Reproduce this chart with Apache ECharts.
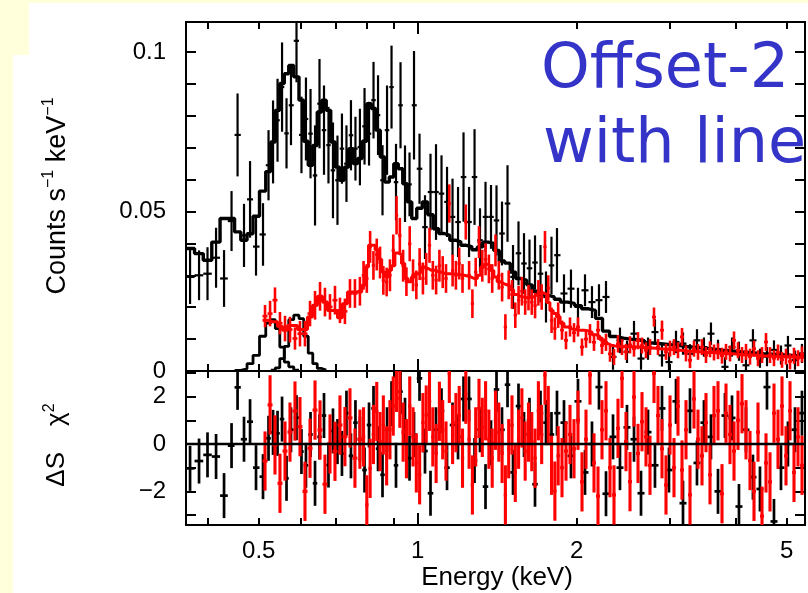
<!DOCTYPE html>
<html><head><meta charset="utf-8">
<script src="https://cdn.jsdelivr.net/npm/echarts@6/dist/echarts.min.js"></script>
<style>
html,body{margin:0;padding:0;width:808px;height:593px;overflow:hidden;background:#ffffdc;}
#pA{position:absolute;left:29px;top:3px;width:779px;height:590px;background:#fff;}
#pB{position:absolute;left:13px;top:55px;width:795px;height:538px;background:#fff;}
#chart{position:absolute;left:0;top:0;width:808px;height:593px;}
</style></head><body>
<div id="pA"></div><div id="pB"></div><div id="chart"></div>
<script>
// ---------------- data ----------------
const blackE = [
0.3705,0.3853,0.3998,0.4150,0.4297,0.4440,0.4558,0.4688,0.4813,0.4940,
0.5093,0.5217,0.5321,0.5426,0.5534,0.5643,0.5754,0.5894,0.6023,0.6142,
0.6266,0.6390,0.6516,0.6645,0.6776,0.6910,0.7047,0.7186,0.7329,0.7474,
0.7622,0.7772,0.7930,0.8087,0.8247,0.8411,0.8577,0.8748,0.8921,0.9097,
0.9278,0.9461,0.9649,0.9840,1.0079,1.0323,1.0574,1.0831,1.1094,1.1364,
1.1640,1.1923,1.2212,1.2509,1.2813,1.3122,1.3441,1.3767,1.4101,1.4444,
1.4795,1.5154,1.5521,1.5898,1.6283,1.6680,1.7084,1.7498,1.7922,1.8357,
1.8927,1.9512,2.0118,2.0743,2.1384,2.2047,2.2733,2.3439,2.4162,2.4912,
2.5686,2.6484,2.7306,2.8146,2.9021,2.9920,3.0850,3.1806,3.2791,3.3806,
3.4848,3.5932,3.7051,3.8194,3.9383,4.0598,4.1858,4.3152,4.4495,4.5878,
4.7296,4.8766,5.0269,5.1832,5.3436];
const blackY = [
0.0295,0.0300,0.0305,0.0355,0.0290,0.0470,0.0740,0.0425,0.0538,0.0390,
0.0428,0.0645,0.0718,0.0786,0.0890,0.0745,0.0833,0.1035,0.0740,0.0790,
0.0744,0.0613,0.0838,0.0755,0.0708,0.0629,0.0598,0.0697,0.0650,0.0739,
0.0697,0.0702,0.0767,0.0744,0.0849,0.0802,0.0598,0.0755,0.0890,0.0592,
0.0833,0.0587,0.0585,0.0833,0.0634,0.0451,0.0561,0.0561,0.0556,0.0530,
0.0483,0.0467,0.0608,0.0467,0.0608,0.0410,0.0483,0.0483,0.0472,0.0431,
0.0525,0.0295,0.0369,0.0337,0.0322,0.0340,0.0305,0.0232,0.0331,0.0363,
0.0243,0.0258,0.0201,0.0253,0.0216,0.0222,0.0232,0.0044,0.0096,0.0060,
0.0117,0.0039,0.0070,0.0122,0.0049,0.0028,0.0091,0.0086,0.0054,0.0096,
0.0075,0.0117,0.0068,0.0013,0.0075,0.0062,0.0018,0.0096,0.0040,0.0045,
0.0066,0.0050,0.0080,0.0034,0.0055];
const blackErr = [
0.0085,0.0078,0.0083,0.0094,0.0089,0.0094,0.0130,0.0099,0.0120,0.0091,
0.0098,0.0110,0.0130,0.0130,0.0140,0.0110,0.0125,0.0130,0.0120,0.0130,
0.0140,0.0157,0.0140,0.0140,0.0120,0.0150,0.0140,0.0110,0.0120,0.0110,
0.0100,0.0120,0.0120,0.0100,0.0120,0.0125,0.0110,0.0140,0.0130,0.0120,
0.0135,0.0120,0.0100,0.0170,0.0110,0.0100,0.0120,0.0150,0.0120,0.0110,
0.0120,0.0110,0.0140,0.0110,0.0150,0.0100,0.0110,0.0100,0.0110,0.0100,
0.0120,0.0100,0.0100,0.0095,0.0090,0.0085,0.0090,0.0080,0.0090,0.0085,
0.0060,0.0060,0.0060,0.0050,0.0050,0.0050,0.0050,0.0040,0.0040,0.0035,
0.0040,0.0035,0.0035,0.0040,0.0035,0.0030,0.0035,0.0035,0.0030,0.0035,
0.0030,0.0035,0.0030,0.0030,0.0030,0.0030,0.0030,0.0035,0.0030,0.0030,
0.0030,0.0030,0.0030,0.0030,0.0030];
const blackModel = [
0.0384,0.0368,0.0347,0.0404,0.0478,0.0478,0.0436,0.0410,0.0430,0.0485,
0.0564,0.0625,0.0718,0.0817,0.0901,0.0932,0.0958,0.0922,0.0849,0.0720,
0.0645,0.0707,0.0812,0.0849,0.0817,0.0718,0.0639,0.0598,0.0639,0.0697,
0.0650,0.0666,0.0720,0.0838,0.0823,0.0755,0.0671,0.0592,0.0608,0.0650,
0.0634,0.0587,0.0530,0.0478,0.0510,0.0530,0.0490,0.0446,0.0431,0.0425,
0.0410,0.0405,0.0394,0.0390,0.0380,0.0389,0.0404,0.0400,0.0378,0.0345,
0.0338,0.0310,0.0290,0.0284,0.0270,0.0250,0.0240,0.0237,0.0232,0.0225,
0.0216,0.0212,0.0205,0.0195,0.0190,0.0165,0.0125,0.0108,0.0103,0.0100,
0.0098,0.0095,0.0088,0.0086,0.0084,0.0082,0.0080,0.0077,0.0075,0.0073,
0.0071,0.0068,0.0065,0.0064,0.0062,0.0060,0.0058,0.0056,0.0054,0.0053,
0.0052,0.0050,0.0049,0.0048,0.0047];
const blackRes = [
-1.03,-0.72,-0.46,-0.53,-2.18,-0.07,2.39,0.20,0.94,-1.00,
-1.38,0.24,0.49,0.45,1.05,-1.45,0.60,1.11,-0.32,-0.90,
0.40,-1.66,0.30,1.20,-0.89,0.55,0.10,-0.40,1.30,-0.50,
0.90,0.20,-1.10,0.80,1.50,-0.20,-1.30,0.60,1.70,-0.90,
2.21,1.00,-0.60,0.40,2.77,-0.30,-2.08,0.60,1.40,-1.00,
0.80,0.30,1.90,1.90,-0.70,0.60,-1.80,0.05,2.30,0.60,
2.50,-1.20,1.60,0.40,1.00,-1.70,1.30,0.90,0.40,1.30,
0.90,-0.50,1.80,-1.20,0.00,2.40,-2.10,0.30,-1.00,0.70,
0.20,-2.08,0.50,-0.90,1.50,-1.10,1.80,-2.50,1.40,-0.80,
0.90,0.30,-2.00,1.20,1.10,-2.64,0.60,-1.40,-1.90,2.40,
-3.27,-1.00,0.00,0.60,1.30];
// line components (black bins 7..18 and 13..24)
const gauss1Start = 6;
const gauss1 = [0.0002,0.0007,0.0023,0.0049,0.0109,0.0150,0.0161,0.0133,0.0075,0.0028,0.0013,0.0003];
const gauss2Start = 12;
const gauss2 = [0.0003,0.0010,0.0039,0.0077,0.0161,0.0175,0.0164,0.0109,0.0056,0.0023,0.0008,0.0003];

const redE = [
0.5138,0.5252,0.5366,0.5484,0.5606,0.5729,0.5855,0.5984,0.6116,0.6252,
0.6390,0.6531,0.6673,0.6821,0.6971,0.7124,0.7280,0.7442,0.7605,0.7772,
0.7896,0.8010,0.8126,0.8244,0.8364,0.8485,0.8608,0.8733,0.8859,0.8988,
0.9118,0.9250,0.9384,0.9520,0.9658,0.9798,0.9940,1.0084,1.0230,1.0378,
1.0528,1.0681,1.0836,1.0993,1.1152,1.1314,1.1478,1.1644,1.1813,1.1984,
1.2158,1.2334,1.2513,1.2694,1.2878,1.3065,1.3254,1.3446,1.3641,1.3839,
1.4039,1.4243,1.4449,1.4658,1.4871,1.5086,1.5305,1.5527,1.5752,1.5980,
1.6212,1.6447,1.6685,1.6927,1.7172,1.7421,1.7673,1.7929,1.8189,1.8453,
1.8764,1.9094,1.9430,1.9772,2.0120,2.0474,2.0834,2.1201,2.1574,2.1954,
2.2340,2.2733,2.3133,2.3540,2.3954,2.4376,2.4805,2.5242,2.5686,2.6138,
2.6598,2.7066,2.7542,2.8027,2.8520,2.9022,2.9533,3.0053,3.0582,3.1120,
3.1668,3.2225,3.2792,3.3369,3.3956,3.4554,3.5162,3.5781,3.6411,3.7052,
3.7704,3.8368,3.9043,3.9730,4.0429,4.1141,4.1865,4.2602,4.3352,4.4115,
4.4891,4.5681,4.6485,4.7303,4.8136,4.8983,4.9845,5.0722,5.1615,5.2523,
5.3447];
const redY = [
0.0172,0.0180,0.0222,0.0150,0.0133,0.0130,0.0102,0.0117,0.0117,0.0180,
0.0206,0.0234,0.0216,0.0201,0.0222,0.0190,0.0187,0.0243,0.0243,0.0250,
0.0300,0.0290,0.0389,0.0331,0.0365,0.0340,0.0284,0.0279,0.0300,0.0378,
0.0488,0.0425,0.0330,0.0280,0.0399,0.0300,0.0270,0.0335,0.0290,0.0320,
0.0394,0.0300,0.0285,0.0330,0.0310,0.0290,0.0525,0.0315,0.0300,0.0337,
0.0290,0.0467,0.0300,0.0211,0.0310,0.0404,0.0330,0.0350,0.0320,0.0290,
0.0378,0.0300,0.0263,0.0138,0.0270,0.0240,0.0175,0.0222,0.0250,0.0216,
0.0230,0.0216,0.0205,0.0245,0.0232,0.0389,0.0260,0.0159,0.0133,0.0175,
0.0128,0.0096,0.0138,0.0120,0.0138,0.0075,0.0100,0.0117,0.0090,0.0128,
0.0080,0.0090,0.0054,0.0044,0.0085,0.0075,0.0060,0.0082,0.0070,0.0095,
0.0080,0.0065,0.0075,0.0169,0.0075,0.0128,0.0060,0.0070,0.0075,0.0065,
0.0107,0.0055,0.0034,0.0070,0.0060,0.0075,0.0050,0.0068,0.0058,0.0062,
0.0048,0.0060,0.0055,0.0096,0.0065,0.0050,0.0060,0.0045,0.0070,0.0040,
0.0050,0.0091,0.0050,0.0040,0.0058,0.0035,0.0045,0.0030,0.0048,0.0040,
0.0052];
const redErr = [
0.0035,0.0040,0.0040,0.0035,0.0040,0.0040,0.0035,0.0040,0.0040,0.0040,
0.0045,0.0045,0.0045,0.0040,0.0045,0.0040,0.0040,0.0045,0.0045,0.0045,
0.0045,0.0045,0.0050,0.0045,0.0050,0.0050,0.0045,0.0045,0.0050,0.0050,
0.0060,0.0055,0.0050,0.0045,0.0055,0.0050,0.0045,0.0050,0.0050,0.0050,
0.0055,0.0045,0.0045,0.0050,0.0050,0.0045,0.0060,0.0050,0.0045,0.0050,
0.0045,0.0055,0.0045,0.0045,0.0045,0.0050,0.0050,0.0050,0.0045,0.0045,
0.0050,0.0045,0.0045,0.0040,0.0045,0.0045,0.0040,0.0045,0.0045,0.0040,
0.0040,0.0040,0.0040,0.0040,0.0040,0.0050,0.0040,0.0040,0.0035,0.0040,
0.0030,0.0028,0.0030,0.0030,0.0030,0.0027,0.0027,0.0030,0.0027,0.0030,
0.0027,0.0027,0.0025,0.0025,0.0027,0.0025,0.0025,0.0027,0.0025,0.0027,
0.0025,0.0025,0.0025,0.0030,0.0025,0.0030,0.0025,0.0025,0.0025,0.0025,
0.0028,0.0025,0.0025,0.0025,0.0025,0.0025,0.0025,0.0025,0.0025,0.0025,
0.0025,0.0025,0.0025,0.0028,0.0025,0.0025,0.0025,0.0025,0.0025,0.0025,
0.0025,0.0028,0.0025,0.0025,0.0025,0.0025,0.0025,0.0025,0.0025,0.0025,
0.0025];
const redModel = [
0.0159,0.0154,0.0154,0.0140,0.0128,0.0143,0.0143,0.0130,0.0130,0.0169,
0.0206,0.0234,0.0216,0.0190,0.0190,0.0167,0.0211,0.0248,0.0248,0.0248,
0.0269,0.0326,0.0394,0.0394,0.0380,0.0350,0.0310,0.0295,0.0316,0.0330,
0.0370,0.0365,0.0337,0.0290,0.0280,0.0295,0.0305,0.0310,0.0326,0.0322,
0.0316,0.0316,0.0312,0.0310,0.0306,0.0305,0.0305,0.0304,0.0303,0.0302,
0.0300,0.0298,0.0295,0.0290,0.0290,0.0300,0.0325,0.0335,0.0330,0.0315,
0.0295,0.0280,0.0274,0.0270,0.0265,0.0255,0.0240,0.0234,0.0232,0.0230,
0.0230,0.0232,0.0238,0.0243,0.0245,0.0240,0.0215,0.0190,0.0180,0.0170,
0.0150,0.0138,0.0132,0.0130,0.0128,0.0128,0.0126,0.0122,0.0114,0.0108,
0.0098,0.0086,0.0080,0.0078,0.0077,0.0077,0.0076,0.0076,0.0075,0.0075,
0.0074,0.0073,0.0072,0.0071,0.0070,0.0069,0.0068,0.0067,0.0066,0.0065,
0.0064,0.0063,0.0062,0.0061,0.0060,0.0059,0.0058,0.0058,0.0057,0.0056,
0.0055,0.0054,0.0054,0.0053,0.0052,0.0051,0.0050,0.0050,0.0049,0.0048,
0.0047,0.0047,0.0046,0.0046,0.0045,0.0045,0.0044,0.0044,0.0043,0.0043,
0.0042];
const redRes = [
-0.72,1.65,-0.04,-1.66,-0.30,0.50,1.39,0.73,-2.00,-0.18,
1.43,0.59,-1.70,0.00,-0.31,0.80,0.31,1.10,-0.60,0.20,
0.30,-2.57,-1.03,0.40,1.37,0.10,0.80,-0.50,0.60,1.60,
2.60,1.93,0.50,-0.20,1.60,0.30,-0.80,-1.30,0.90,1.22,
1.80,0.30,-0.40,1.38,0.60,-0.30,2.98,0.40,0.90,1.20,
-0.60,2.10,0.20,-1.73,0.30,1.50,0.70,1.40,0.20,-0.60,
1.00,0.50,-0.40,-2.15,-0.20,0.80,-1.20,0.20,1.10,-0.30,
0.50,0.10,-0.60,1.40,0.40,2.91,1.20,-0.90,-1.99,-0.50,
-1.00,-0.30,0.40,-0.20,1.00,-1.60,0.20,2.91,-0.80,-2.20,
0.60,1.40,-1.00,-2.15,0.66,2.77,0.10,-1.59,1.98,-0.40,
0.94,0.30,-0.90,2.98,1.20,-0.20,-1.73,0.80,-1.00,1.60,
-1.10,0.60,-2.15,1.90,0.20,-0.50,0.90,-1.30,1.20,1.40,
-2.10,1.30,0.40,-0.30,1.00,1.70,0.60,-0.70,-2.00,0.50,
-3.05,-0.80,-1.60,1.30,0.20,1.60,-0.50,1.40,-1.20,0.30,
-0.90];
// residual error-bar half lengths (in sigma units)
const blackResErr = 0.95;
const redResErr = 1.25;

// axes
const X_MIN = 0.364, X_MAX = 5.415;
const Y1_MAX = 0.1094, Y2_MIN = -3.42, Y2_MAX = 3.08;
const xMinorTicks = [0.4,0.5,0.6,0.7,0.8,0.9,2,3,4,5];
const xMajorTicks = [1];
const xTickLabels = [0.5,1,2,5];
const y1Ticks = [0,0.01,0.02,0.03,0.04,0.05,0.06,0.07,0.08,0.09,0.1];
const y1Labels = [0,0.05,0.1];
const y2Ticks = [-3,-2,-1,0,1,2,3];
const y2Labels = [-2,0,2];

// ---------------- build ----------------
const FONT = "'Liberation Sans', Arial, Helvetica, sans-serif";
function edges(E){
  const n=E.length, lo=[], hi=[];
  for(let i=0;i<n;i++){
    lo.push(i>0?Math.sqrt(E[i-1]*E[i]):E[0]*E[0]/Math.sqrt(E[0]*E[1]));
    hi.push(i<n-1?Math.sqrt(E[i]*E[i+1]):E[n-1]*E[n-1]/Math.sqrt(E[n-2]*E[n-1]));
  }
  return {lo,hi};
}
const bEd = edges(blackE), rEd = edges(redE);
function crossData(E, ed, Y, err){ return E.map((e,i)=>[e,Y[i],Array.isArray(err)?err[i]:err,ed.lo[i],ed.hi[i]]); }
function stepData(ed, vals, start){
  const pts=[];
  for(let k=0;k<vals.length;k++) pts.push([ed.lo[start+k], vals[k]]);
  pts.push([ed.hi[start+vals.length-1], vals[vals.length-1]]);
  return pts;
}
function crossRender(color, lw){
  return function(params, api){
    const e=api.value(0), y=api.value(1), dy=api.value(2), lo=api.value(3), hi=api.value(4);
    const c=api.coord([e,y]), t=api.coord([e,y+dy]), b=api.coord([e,y-dy]);
    const l=api.coord([lo,y]), r=api.coord([hi,y]);
    return {type:'group', children:[
      {type:'line', shape:{x1:c[0],y1:t[1],x2:c[0],y2:b[1]}, style:{stroke:color,lineWidth:lw}},
      {type:'line', shape:{x1:l[0],y1:c[1],x2:r[0],y2:c[1]}, style:{stroke:color,lineWidth:lw}}
    ]};
  };
}

function xAx(grid, pos, ticks, len, labels){
  return {type:'log', logBase:10, gridIndex:grid, position:pos, min:X_MIN, max:X_MAX,
    axisLine:{show:true,onZero:false,lineStyle:{color:'#000',width:2}},
    axisTick:{show:true,inside:true,length:len,customValues:ticks,lineStyle:{color:'#000',width:2}},
    axisLabel: labels?{show:true,customValues:labels,margin:14,fontSize:24,color:'#000',fontFamily:FONT,formatter:v=>String(v)}:{show:false},
    splitLine:{show:false}, minorTick:{show:false}, minorSplitLine:{show:false}};
}
function yAx(grid, pos, min, max, ticks, labels, fmt){
  return {type:'value', gridIndex:grid, position:pos, min:min, max:max,
    axisLine:{show:true,onZero:false,lineStyle:{color:'#000',width:2}},
    axisTick:{show:true,inside:true,length:10,customValues:ticks,lineStyle:{color:'#000',width:2}},
    axisLabel: labels?{show:true,customValues:labels,margin:20,fontSize:24,color:'#000',fontFamily:FONT,formatter:fmt}:{show:false},
    splitLine:{show:false}};
}
const fmt1 = v => (Math.abs(v)<1e-12?'0':String(+v.toFixed(3)));
const fmt2 = v => (v<0?'\u2212'+(-v):String(v));

const chart = echarts.init(document.getElementById('chart'), null, {renderer:'canvas'});
chart.setOption({
  animation:false,
  backgroundColor:'transparent',
  grid:[
    {left:186, top:22, width:619, height:349, containLabel:false, outerBoundsMode:'none'},
    {left:186, top:371, width:619, height:154, containLabel:false, outerBoundsMode:'none'}
  ],
  xAxis:[
    xAx(0,'bottom',xMinorTicks,7,null),
    xAx(0,'bottom',xMajorTicks,12,null),
    xAx(0,'top',xMinorTicks,7,null),
    xAx(0,'top',xMajorTicks,12,null),
    xAx(1,'bottom',xMinorTicks,7,xTickLabels),
    xAx(1,'bottom',xMajorTicks,12,null),
    xAx(1,'top',xMinorTicks,7,null),
    xAx(1,'top',xMajorTicks,12,null)
  ],
  yAxis:[
    yAx(0,'left',0,Y1_MAX,y1Ticks,y1Labels,fmt1),
    yAx(0,'right',0,Y1_MAX,y1Ticks,null),
    yAx(1,'left',Y2_MIN,Y2_MAX,y2Ticks,y2Labels,fmt2),
    yAx(1,'right',Y2_MIN,Y2_MAX,y2Ticks,null)
  ],
  series:[
    {type:'custom', xAxisIndex:0, yAxisIndex:0, clip:true, z:2, silent:true,
     renderItem:crossRender('#000',2.2), encode:{x:0,y:1},
     data:crossData(blackE,bEd,blackY,blackErr)},
    {type:'line', xAxisIndex:0, yAxisIndex:0, step:'end', showSymbol:false, symbol:'none', z:3, silent:true,
     lineStyle:{color:'#000',width:3.4}, data:stepData(bEd,blackModel,0)},
    {type:'line', xAxisIndex:0, yAxisIndex:0, step:'end', showSymbol:false, symbol:'none', z:3, silent:true,
     lineStyle:{color:'#000',width:2.8}, data:stepData(bEd,gauss1,gauss1Start)},
    {type:'line', xAxisIndex:0, yAxisIndex:0, step:'end', showSymbol:false, symbol:'none', z:3, silent:true,
     lineStyle:{color:'#000',width:2.8}, data:stepData(bEd,gauss2,gauss2Start)},
    {type:'custom', xAxisIndex:0, yAxisIndex:0, clip:true, z:4, silent:true,
     renderItem:crossRender('#ff0000',2.6), encode:{x:0,y:1},
     data:crossData(redE,rEd,redY,redErr)},
    {type:'line', xAxisIndex:0, yAxisIndex:0, step:'end', showSymbol:false, symbol:'none', z:5, silent:true,
     lineStyle:{color:'#ff0000',width:3}, data:stepData(rEd,redModel,0)},
    {type:'custom', xAxisIndex:4, yAxisIndex:2, clip:true, z:2, silent:true,
     renderItem:crossRender('#000',2.7), encode:{x:0,y:1},
     data:crossData(blackE,bEd,blackRes,blackResErr)},
    {type:'custom', xAxisIndex:4, yAxisIndex:2, clip:true, z:4, silent:true,
     renderItem:crossRender('#ff0000',3.1), encode:{x:0,y:1},
     data:crossData(redE,rEd,redRes,redResErr)},
    {type:'line', xAxisIndex:4, yAxisIndex:2, z:6, silent:true, data:[], symbol:'none',
     markLine:{silent:true, symbol:['none','none'], label:{show:false},
       lineStyle:{color:'#000',width:2.4,type:'solid'}, data:[{yAxis:0}]}}
  ],
  graphic:[
    {type:'text', x:56, y:196, rotation:Math.PI/2, silent:true,
     style:{text:'{n|Counts s}{s|\u22121}{n| keV}{s|\u22121}', align:'center', verticalAlign:'middle',
       textAlign:'center', textVerticalAlign:'middle',
       rich:{n:{fontSize:27,fontFamily:FONT,fill:'#000',lineHeight:30,verticalAlign:'bottom'},
             s:{fontSize:16,fontFamily:FONT,fill:'#000',lineHeight:16,verticalAlign:'top'}}}},
    {type:'text', x:56, y:445, rotation:Math.PI/2, silent:true,
     style:{text:'{n|\u0394S\u2003\u03c7}{s|2}', align:'center', verticalAlign:'middle',
       textAlign:'center', textVerticalAlign:'middle',
       rich:{n:{fontSize:26,fontFamily:FONT,fill:'#000',lineHeight:28,verticalAlign:'bottom'},
             s:{fontSize:16,fontFamily:FONT,fill:'#000',lineHeight:16,verticalAlign:'top'}}}},
    {type:'text', x:497, y:578, silent:true,
     style:{text:'Energy (keV)', font:"26px "+FONT, fill:'#000', align:'center', verticalAlign:'middle',
       textAlign:'center', textVerticalAlign:'middle'}},
    {type:'text', x:541, y:71, silent:true,
     style:{text:'Offset-2', font:"62px 'DejaVu Sans'", fill:'#3434c8', align:'left', verticalAlign:'middle',
       textAlign:'left', textVerticalAlign:'middle'}},
    {type:'text', x:543, y:146, silent:true,
     style:{text:'with line', font:"62px 'DejaVu Sans'", fill:'#3434c8', align:'left', verticalAlign:'middle',
       textAlign:'left', textVerticalAlign:'middle'}}
  ]
});
</script>
</body></html>
